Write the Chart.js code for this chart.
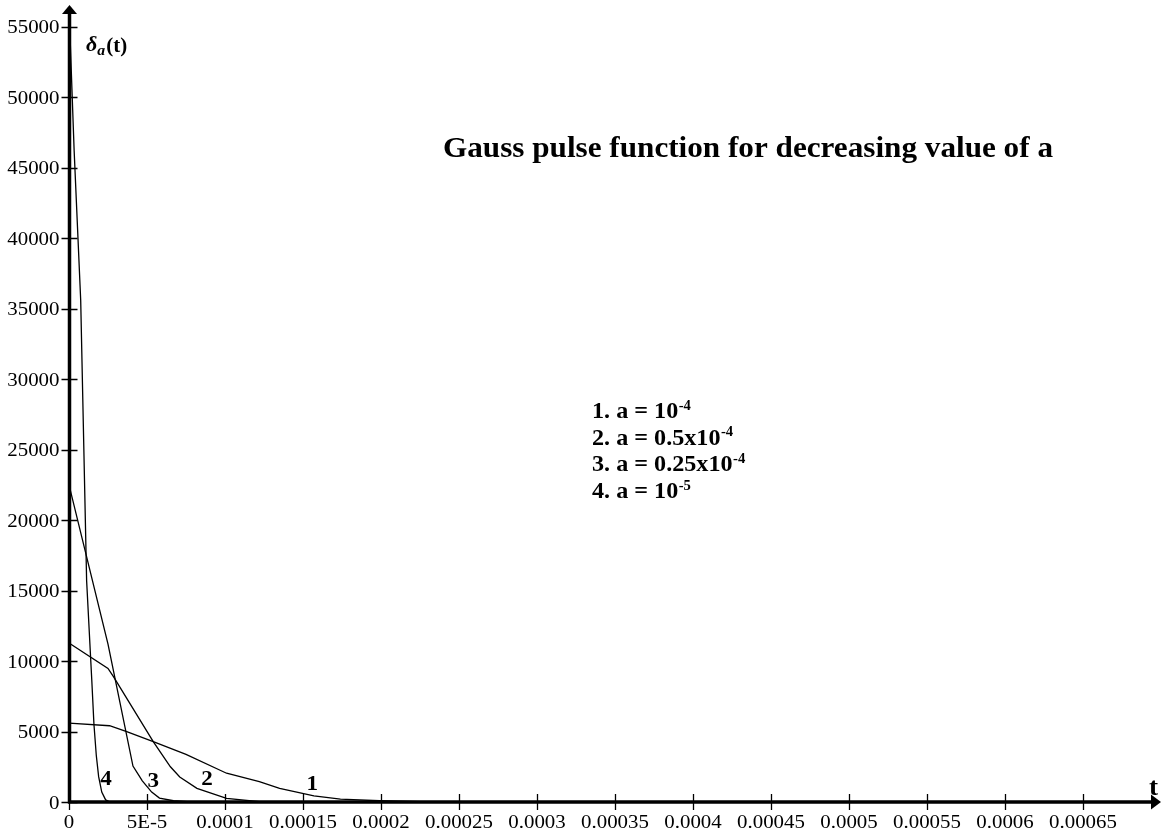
<!DOCTYPE html>
<html>
<head>
<meta charset="utf-8">
<script src="https://cdn.jsdelivr.net/npm/chart.js@4.4.1/dist/chart.umd.min.js"></script>
<style>
  body { margin: 0; background: #fff; }
  canvas { display: block; }
</style>
</head>
<body>
<canvas id="chart" width="1161" height="833"></canvas>
<script>
// values (t in seconds)
const t1 = [0, 2.6e-5, 3.7e-5, 5.4e-5, 7.5e-5, 1.01e-4, 1.22e-4, 1.35e-4, 1.57e-4, 1.74e-4, 1.99e-4, 2.25e-4, 2.6e-4]
const delta1 = [5600, 5410, 4990, 4280, 3380, 2040, 1440, 970, 430, 210, 90, 20, 0]

const t2 = [0, 2.5e-5, 2.85e-5, 5.4e-5, 6.5e-5, 7.1e-5, 8.2e-5, 1.01e-4, 1.22e-4, 1.5e-4]
const delta2 = [11280, 9480, 8890, 4280, 2500, 1770, 970, 260, 20, 0]

const t3 = [0, 2.5e-5, 4.1e-5, 4.7e-5, 5.3e-5, 5.8e-5, 6.7e-5, 7.8e-5]
const delta3 = [22500, 11200, 2550, 1500, 700, 280, 90, 0]

const t4 = [0, 3.3e-6, 7.5e-6, 1.13e-5, 1.46e-5, 1.6e-5, 1.75e-5, 1.9e-5, 2.1e-5, 2.35e-5, 2.65e-5]
const delta4 = [56400, 46200, 35600, 15700, 8650, 5500, 3300, 1800, 700, 150, 0]

const yTicks = [0, 5000, 10000, 15000, 20000, 25000, 30000, 35000, 40000, 45000, 50000, 55000]
const xTicks = [0, 0.00005, 0.0001, 0.00015, 0.0002, 0.00025, 0.0003, 0.00035, 0.0004, 0.00045, 0.0005, 0.00055, 0.0006, 0.00065]
const xTickLabels = ['0', '5E-5', '0.0001', '0.00015', '0.0002', '0.00025', '0.0003', '0.00035', '0.0004', '0.00045', '0.0005', '0.00055', '0.0006', '0.00065']

const curveLabels = ['1', '2', '3', '4']
const curveLabelT = [1.56e-4, 8.85e-5, 5.4e-5, 2.37e-5]
const curveLabelV = [850, 1200, 1060, 1200]

const legendLines = [['1. a = 10', '-4'], ['2. a = 0.5x10', '-4'], ['3. a = 0.25x10', '-4'], ['4. a = 10', '-5']]

const SERIF = '"Liberation Serif", "Times New Roman", serif'
const SX = 1.1

const pts = (ts, vs) => ts.map((t, i) => ({ x: t, y: vs[i] }))

function text (ctx, s, x, y, font, align, sx) {
  ctx.save()
  ctx.font = font
  ctx.textAlign = align || 'left'
  ctx.textBaseline = 'alphabetic'
  ctx.translate(x, y)
  ctx.scale(sx || SX, 1)
  ctx.fillText(s, 0, 0)
  const w = ctx.measureText(s).width * (sx || SX)
  ctx.restore()
  return w
}

const axesPlugin = {
  id: 'axes',
  afterDatasetsDraw (chart) {
    const ctx = chart.ctx
    const xs = chart.scales.x
    const ys = chart.scales.y
    const x0 = xs.getPixelForValue(0) + 0.5
    const y0 = ys.getPixelForValue(0)
    ctx.save()
    ctx.fillStyle = '#000'
    ctx.strokeStyle = '#000'

    // axis lines
    ctx.lineWidth = 3.5
    ctx.beginPath()
    ctx.moveTo(x0, y0 + 1.5)
    ctx.lineTo(x0, 14)
    ctx.moveTo(x0 - 1.5, y0)
    ctx.lineTo(chart.width - 9, y0)
    ctx.stroke()

    // arrows
    ctx.beginPath()
    ctx.moveTo(x0, 5)
    ctx.lineTo(x0 - 7.5, 14)
    ctx.lineTo(x0 + 7.5, 14)
    ctx.closePath()
    ctx.fill()
    ctx.beginPath()
    ctx.moveTo(chart.width, y0)
    ctx.lineTo(chart.width - 10, y0 - 7.5)
    ctx.lineTo(chart.width - 10, y0 + 7.5)
    ctx.closePath()
    ctx.fill()

    // tick marks and labels
    ctx.lineWidth = 1.3
    ctx.beginPath()
    yTicks.forEach(v => {
      const py = Math.round(ys.getPixelForValue(v)) + 0.5
      ctx.moveTo(x0 - 8, py)
      ctx.lineTo(x0 + 8, py)
    })
    xTicks.forEach(v => {
      const px = Math.round(xs.getPixelForValue(v)) + 0.5
      ctx.moveTo(px, y0 - 8)
      ctx.lineTo(px, y0 + 8)
    })
    ctx.stroke()

    const tickFont = '19px ' + SERIF
    yTicks.forEach(v => {
      text(ctx, String(v), x0 - 10, ys.getPixelForValue(v) + 6.5, tickFont, 'right')
    })
    xTicks.forEach((v, i) => {
      text(ctx, xTickLabels[i], xs.getPixelForValue(v), y0 + 26, tickFont, 'center')
    })

    // axis titles
    let x = 86
    x += text(ctx, 'δ', x, 51, 'italic bold 21px ' + SERIF, 'left', 1.05)
    x += text(ctx, 'a', x, 55, 'italic bold 15px ' + SERIF, 'left', 1.05)
    text(ctx, '(t)', x + 1, 52, 'bold 20px ' + SERIF, 'left', 1.05)
    text(ctx, 't', 1149, 795, 'bold 26px ' + SERIF, 'left', 1.05)

    // title
    text(ctx, 'Gauss pulse function for decreasing value of a', 443, 157, 'bold 29px ' + SERIF, 'left', 1.075)

    // legend text
    legendLines.forEach((parts, i) => {
      const base = 418 + i * 26.7
      let lx = 592
      lx += text(ctx, parts[0], lx, base, 'bold 23px ' + SERIF, 'left', 1.05)
      text(ctx, parts[1], lx + 0.5, base - 8.5, 'bold 14px ' + SERIF, 'left', 1.05)
    })

    // curve numbers
    curveLabels.forEach((s, i) => {
      text(ctx, s, xs.getPixelForValue(curveLabelT[i]), ys.getPixelForValue(curveLabelV[i]), 'bold 22px ' + SERIF, 'center', 1.05)
    })
    ctx.restore()
  }
}

const lineStyle = { borderColor: '#000', borderWidth: 1.3, pointRadius: 0, tension: 0, fill: false }

new Chart(document.getElementById('chart'), {
  type: 'line',
  data: {
    datasets: [
      Object.assign({ label: 'a = 1e-4', data: pts(t1, delta1) }, lineStyle),
      Object.assign({ label: 'a = 0.5e-4', data: pts(t2, delta2) }, lineStyle),
      Object.assign({ label: 'a = 0.25e-4', data: pts(t3, delta3) }, lineStyle),
      Object.assign({ label: 'a = 1e-5', data: pts(t4, delta4) }, lineStyle)
    ]
  },
  options: {
    responsive: false,
    animation: false,
    layout: { padding: { left: 69, right: 0, top: 7, bottom: 31 } },
    plugins: { legend: { display: false }, tooltip: { enabled: false } },
    scales: {
      x: { type: 'linear', min: 0, max: 0.0007, display: false },
      y: { min: 0, max: 56400, display: false }
    }
  },
  plugins: [axesPlugin]
})
</script>
</body>
</html>
